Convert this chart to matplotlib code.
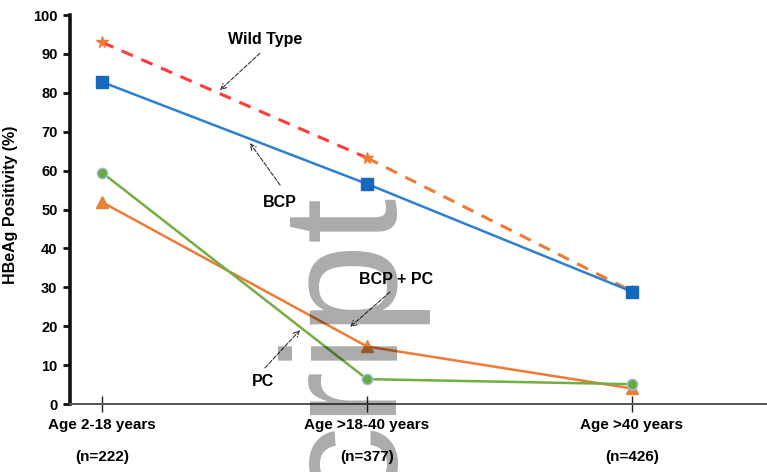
import matplotlib
matplotlib.use('Agg')
import matplotlib.pyplot as plt
import numpy as np

plt.rcParams['font.family'] = ['Liberation Sans', 'DejaVu Sans']
plt.rcParams['font.weight'] = 'bold'

# data
age_groups = ['Age 2-18 years', 'Age >18-40 years', 'Age >40 years']
group_n = ['(n=222)', '(n=377)', '(n=426)']
wild_type = [93.0, 63.3, 29.0]
bcp = [82.8, 56.6, 28.9]
pc = [59.5, 6.4, 5.1]
bcp_pc = [51.9, 14.8, 4.0]

x = np.arange(len(age_groups))

fig = plt.figure(figsize=(7.67, 4.72), dpi=100)
ax = fig.add_axes([0.0913, 0.144, 0.9087, 0.824])

# wild type: dashed, red first segment then orange
ax.plot(x[:2], wild_type[:2], color='#FF3B3B', lw=2.2, ls=(0, (4, 3)), zorder=3)
ax.plot(x[1:], wild_type[1:], color='#F07A35', lw=2.2, ls=(0, (4, 3)), zorder=3)
ax.plot(x, wild_type, ls='none', marker='*', ms=8.5, color='#F07A35', zorder=4)

ax.plot(x, bcp, color='#2E7FCF', lw=1.8, marker='s', ms=8.5, mfc='#1468BE', mec='#1468BE', zorder=5)
ax.plot(x, bcp_pc, color='#F07A35', lw=1.8, marker='^', ms=8, mfc='#E8803A', mec='#E8803A', zorder=4)
ax.plot(x, pc, color='#72AD45', lw=1.8, marker='o', ms=7.5, mfc='#6AA842', mec='#9DC3E6', mew=1, zorder=4)

ax.set_xlim(-0.121, 2.51)
ax.set_ylim(0, 100)
ax.set_yticks(np.arange(0, 101, 10))
ax.set_xticks(x)
ax.set_xticklabels([a + '\n\n' + n for a, n in zip(age_groups, group_n)],
                   fontsize=11, fontweight='bold', linespacing=1.2)
ax.tick_params(axis='x', direction='inout', length=12, width=1, color='#222', pad=4)
ax.tick_params(axis='y', direction='out', length=5, width=2, color='#111', labelsize=10.5, pad=4)
for lab in ax.get_yticklabels():
    lab.set_fontweight('bold')

ax.spines['top'].set_visible(False)
ax.spines['right'].set_visible(False)
ax.spines['left'].set_linewidth(2.6)
ax.spines['left'].set_color('#111')
ax.spines['bottom'].set_linewidth(1.4)
ax.spines['bottom'].set_color('#555')

ax.set_ylabel('HBeAg Positivity (%)', fontsize=11.5, fontweight='bold')
ax.yaxis.set_label_coords(-0.0746, 0.513)

# annotation labels with dashed arrows
arrow = dict(arrowstyle='->', ls='--', color='#333', lw=0.8, shrinkA=0, shrinkB=0)
ax.annotate('', xy=(0.445, 80.7), xytext=(0.596, 90.2), arrowprops=arrow)
ax.text(0.615, 93.6, 'Wild Type', ha='center', va='center', fontsize=11.5, fontweight='bold')
ax.annotate('', xy=(0.558, 67.1), xytext=(0.672, 56.3), arrowprops=arrow)
ax.text(0.672, 51.9, 'BCP', ha='center', va='center', fontsize=11.5, fontweight='bold')
ax.annotate('', xy=(0.936, 19.8), xytext=(1.087, 28.8), arrowprops=arrow)
ax.text(1.109, 31.9, 'BCP + PC', ha='center', va='center', fontsize=11.5, fontweight='bold')
ax.annotate('', xy=(0.747, 19.0), xytext=(0.615, 9.3), arrowprops=arrow)
ax.text(0.608, 5.9, 'PC', ha='center', va='center', fontsize=11.5, fontweight='bold')

# manuscript watermark
fig.text(392 / 767, 1 - 193 / 472, 'script', rotation=90, rotation_mode='anchor',
         ha='right', va='baseline', fontsize=118, fontweight='normal',
         color='black', alpha=0.33, zorder=10)

fig.savefig('out.png', dpi=100)
